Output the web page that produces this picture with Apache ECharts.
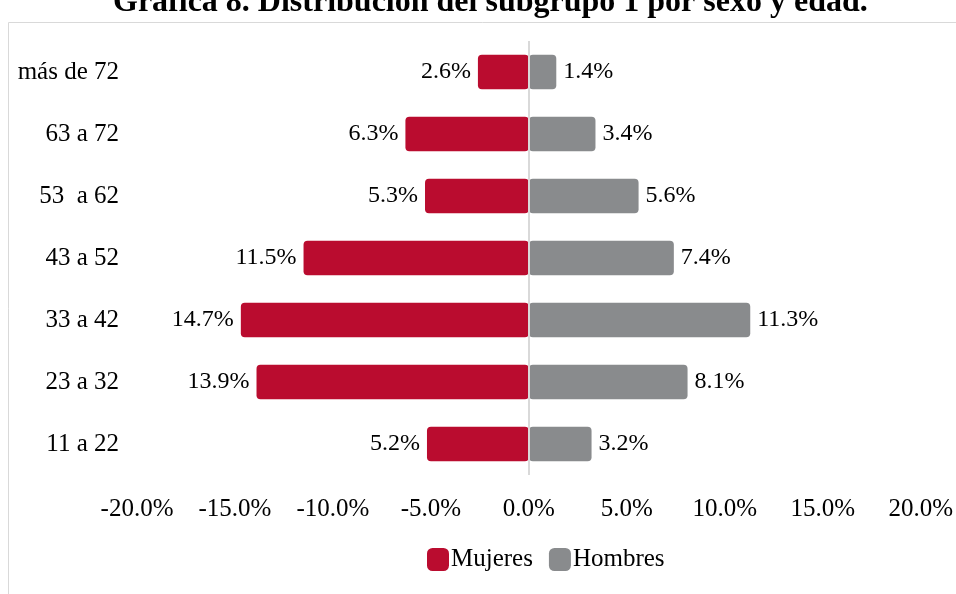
<!DOCTYPE html>
<html>
<head>
<meta charset="utf-8">
<script src="https://cdn.jsdelivr.net/npm/echarts@6/dist/echarts.min.js"></script>
<style>
  html, body { margin: 0; padding: 0; background: #fff; }
  #grafica { width: 956px; height: 594px; }
</style>
</head>
<body>
<div id="grafica"></div>
<script>
// Grupos de edad (de abajo hacia arriba)
const edades = ['11 a 22', '23 a 32', '33 a 42', '43 a 52', '53  a 62', '63 a 72', 'más de 72'];
// Porcentajes por sexo
const mujeres = [5.2, 13.9, 14.7, 11.5, 5.3, 6.3, 2.6];
const hombres = [3.2, 8.1, 11.3, 7.4, 5.6, 3.4, 1.4];
// Marcas del eje x
const ticksX = [-20, -15, -10, -5, 0, 5, 10, 15, 20];

const fuente = "'Liberation Serif', 'Times New Roman', serif";
const rojo = '#BA0C2F';
const gris = '#898B8D';

const chart = echarts.init(document.getElementById('grafica'));

chart.setOption({
  animation: false,
  textStyle: { fontFamily: fuente, color: '#000' },
  title: {
    text: 'Gráfica 8. Distribución del subgrupo 1 por sexo y edad.',
    left: 108,
    top: -18,
    textStyle: { fontFamily: fuente, fontSize: 32, fontWeight: 'bold', color: '#000' }
  },
  graphic: [
    {
      type: 'rect',
      shape: { x: 8.5, y: 22.5, width: 1000, height: 700 },
      style: { fill: 'none', stroke: '#d9d9d9', lineWidth: 1 },
      z: -1
    }
  ],
  legend: {
    left: 427,
    top: 547,
    padding: 0,
    itemWidth: 22,
    itemHeight: 23,
    itemGap: 16,
    icon: 'roundRect',
    textStyle: { fontFamily: fuente, fontSize: 25, color: '#000', padding: [0, 0, 0, -3] },
    data: ['Mujeres', 'Hombres']
  },
  grid: { left: 137, right: 33, top: 41, bottom: 119 },
  xAxis: {
    type: 'value',
    min: ticksX[0],
    max: ticksX[ticksX.length - 1],
    interval: 5,
    axisLine: { show: false },
    axisTick: { show: false },
    splitLine: { show: false },
    axisLabel: {
      fontFamily: fuente,
      fontSize: 25,
      color: '#000',
      margin: 22,
      formatter: v => v.toFixed(1) + '%'
    }
  },
  yAxis: {
    type: 'category',
    data: edades,
    axisLine: { show: false },
    axisTick: { show: false },
    axisLabel: { fontFamily: fuente, fontSize: 25, color: '#000', margin: 18 }
  },
  series: [
    {
      name: 'Mujeres',
      type: 'bar',
      stack: 'total',
      barWidth: '56%',
      data: mujeres.map(v => -v),
      itemStyle: { color: rojo, borderRadius: 4 },
      label: {
        show: true,
        position: 'left',
        distance: 7,
        fontFamily: fuente,
        fontSize: 24,
        color: '#000',
        formatter: p => Math.abs(p.value).toFixed(1) + '%'
      }
    },
    {
      name: 'Hombres',
      type: 'bar',
      stack: 'total',
      barWidth: '56%',
      data: hombres,
      itemStyle: { color: gris, borderRadius: 4 },
      label: {
        show: true,
        position: 'right',
        distance: 7,
        fontFamily: fuente,
        fontSize: 24,
        color: '#000',
        formatter: p => p.value.toFixed(1) + '%'
      },
      markLine: {
        silent: true,
        symbol: 'none',
        label: { show: false },
        lineStyle: { color: '#d9d9d9', width: 2, type: 'solid' },
        data: [{ xAxis: 0 }]
      }
    }
  ]
});
</script>
</body>
</html>
